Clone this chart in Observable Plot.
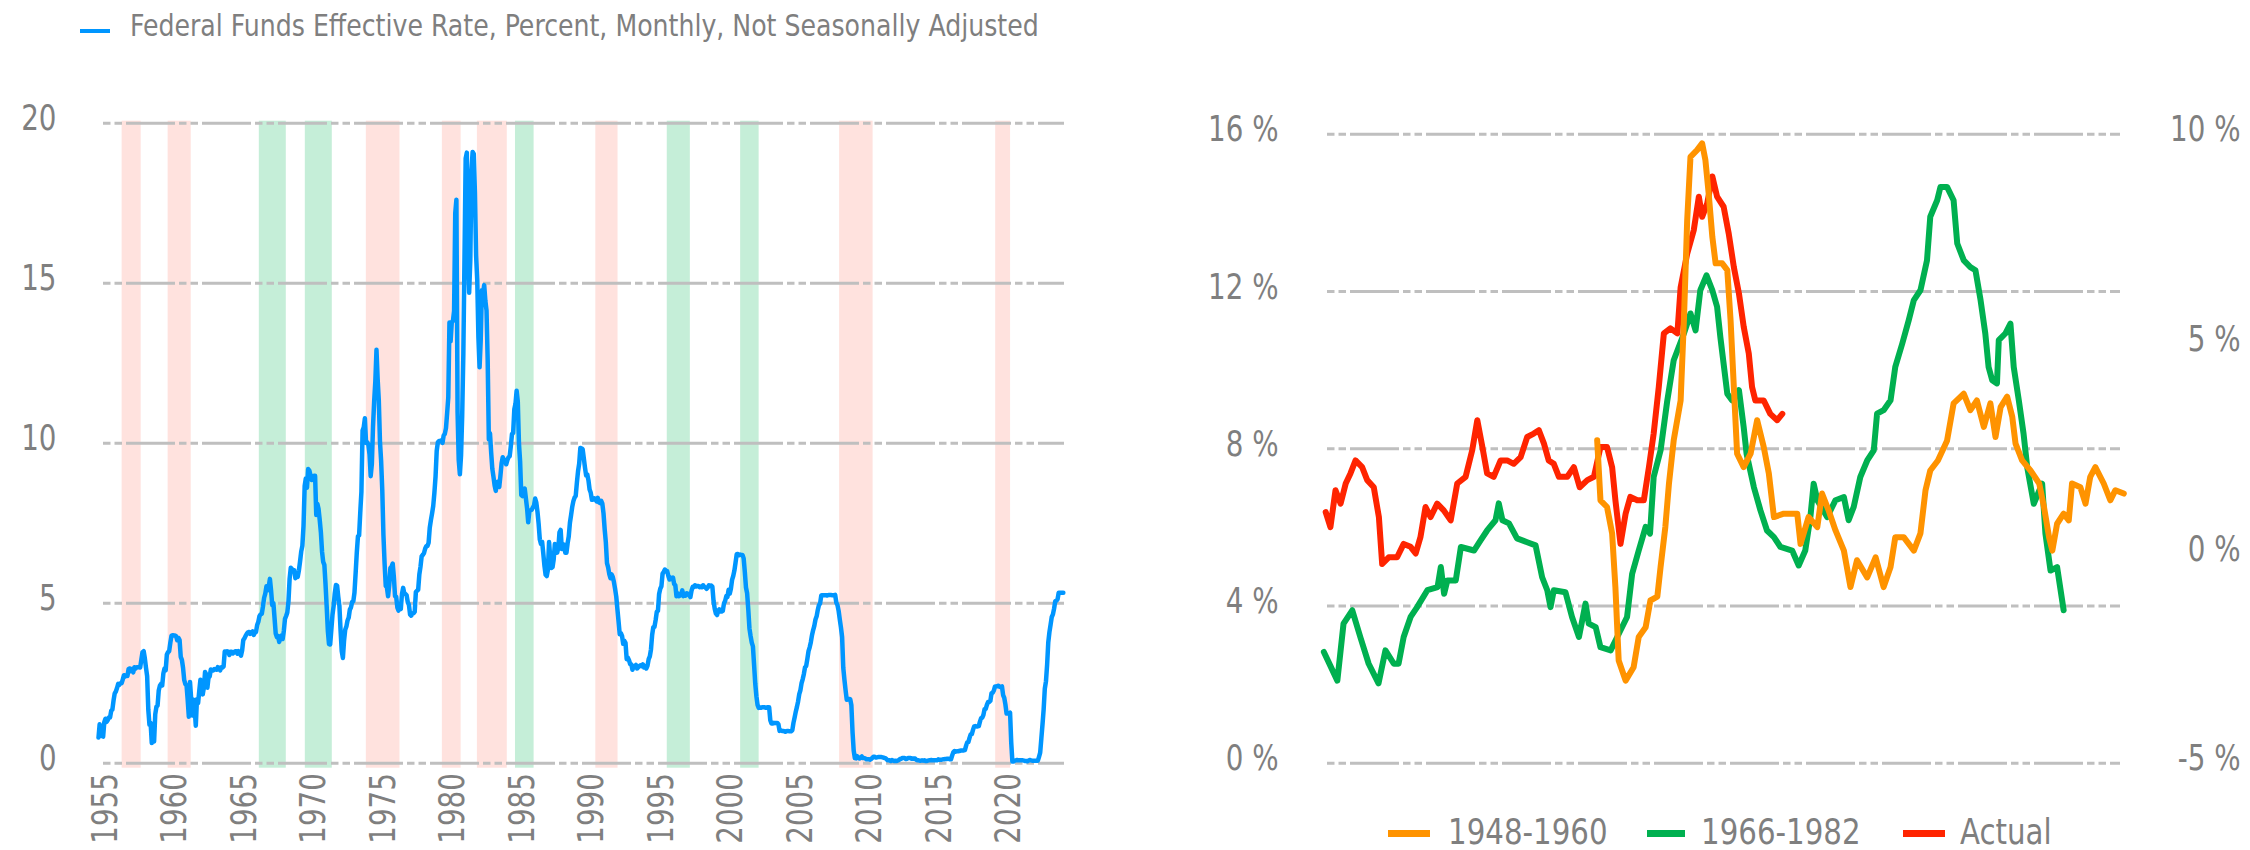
<!DOCTYPE html>
<html>
<head>
<meta charset="utf-8">
<script src="https://cdn.jsdelivr.net/npm/d3@7"></script>
<script src="https://cdn.jsdelivr.net/npm/@observablehq/plot@0.6"></script>
<style>
  html, body { margin: 0; padding: 0; background: #ffffff; }
  body { width: 2250px; height: 850px; position: relative; overflow: hidden;
         font-family: "Liberation Sans Narrow", "Arial Narrow", "DejaVu Sans Condensed", sans-serif; color: #7f7f7f; }
  .abs { position: absolute; white-space: nowrap; line-height: 1; transform-origin: 0 0; }
  .sw { position: absolute; }
</style>
</head>
<body>
<div id="left" class="abs" style="left:0;top:0;"></div>
<div id="right" class="abs" style="left:1110px;top:0;"></div>
<div class="sw" style="left:80px;top:29px;width:30px;height:4px;background:#0096ff;"></div>
<div class="abs" id="title" style="left:130px;top:10px;font-size:31px;transform:scaleX(0.904);">Federal Funds Effective Rate, Percent, Monthly, Not Seasonally Adjusted</div>

<div class="sw" style="left:1388px;top:830px;width:42px;height:7px;background:#ff9300;"></div>
<div class="abs" style="left:1448px;top:815px;font-size:35px;transform:scaleX(0.93);">1948-1960</div>
<div class="sw" style="left:1647px;top:830px;width:38px;height:7px;background:#00b050;"></div>
<div class="abs" style="left:1701px;top:815px;font-size:35px;transform:scaleX(0.93);">1966-1982</div>
<div class="sw" style="left:1903px;top:830px;width:42px;height:7px;background:#ff2400;"></div>
<div class="abs" style="left:1960px;top:815px;font-size:35px;transform:scaleX(0.93);">Actual</div>

<script>
// ---------- LEFT CHART DATA: Federal Funds Effective Rate (monthly, from July 1954) ----------
const ffStartYear = 1954.5;
const ff1950s = [0.80,1.22,1.07,0.85,0.83,1.28,
  1.39,1.29,1.35,1.43,1.43,1.64,1.68,1.96,2.18,2.24,2.35,2.48,
  2.45,2.50,2.50,2.62,2.75,2.71,2.75,2.73,2.95,2.96,2.88,2.94,
  2.84,3.00,2.96,3.00,3.00,3.00,2.99,3.24,3.47,3.50,3.28,2.98,
  2.72,1.67,1.20,1.26,0.63,0.93,0.68,1.53,1.76,1.80,2.27,2.42,
  2.48,2.43,2.80,2.96,2.90,3.39,3.47,3.50,3.76,3.98,4.00,3.99];
const ff1960s = [3.99,3.97,3.84,3.92,3.85,3.32,3.23,2.98,2.60,2.47,2.44,1.98,
  1.45,2.54,2.02,1.49,1.98,1.73,1.17,2.00,1.88,2.26,2.61,2.33,
  2.15,2.37,2.85,2.78,2.36,2.68,2.71,2.93,2.90,2.90,2.94,2.93,
  2.92,3.00,2.98,2.90,3.00,2.99,3.02,3.49,3.48,3.50,3.48,3.38,
  3.48,3.48,3.43,3.47,3.50,3.50,3.42,3.50,3.45,3.36,3.52,3.85,
  3.90,3.98,4.04,4.09,4.10,4.04,4.09,4.12,4.01,4.08,4.10,4.32,
  4.42,4.60,4.65,4.67,4.90,5.17,5.30,5.53,5.40,5.53,5.76,5.40,
  4.94,5.00,4.53,4.05,3.94,3.98,3.79,3.90,3.99,3.88,4.13,4.51,
  4.60,4.71,5.05,5.76,6.11,6.07,6.02,6.03,5.78,5.91,5.82,6.02,
  6.30,6.61,6.79,7.41,8.67,8.90,8.61,9.19,9.15,9.00,8.85,8.97];
const ff1970s = [8.98,8.98,7.76,8.10,7.94,7.60,7.21,6.61,6.29,6.20,5.60,4.90,
  4.14,3.72,3.71,4.16,4.63,4.91,5.31,5.57,5.55,5.20,4.91,4.14,
  3.50,3.29,3.83,4.17,4.27,4.46,4.55,4.80,4.87,5.04,5.06,5.33,
  5.94,6.58,7.09,7.12,7.84,8.49,10.40,10.50,10.78,10.01,10.03,9.95,
  9.65,8.97,9.35,10.51,11.31,11.93,12.92,12.01,11.34,10.06,9.45,8.53,
  7.13,6.24,5.54,5.49,5.22,5.55,6.10,6.14,6.24,5.82,5.22,5.20,
  4.87,4.77,4.84,4.82,5.29,5.48,5.31,5.29,5.25,5.03,4.95,4.65,
  4.61,4.68,4.69,4.73,5.35,5.39,5.42,5.90,6.14,6.47,6.51,6.56,
  6.70,6.78,6.79,6.89,7.36,7.60,7.81,8.04,8.45,8.96,9.76,10.03,
  10.07,10.06,10.09,10.01,10.24,10.29,10.47,10.94,11.43,13.77,13.18,13.78];
const ff1980s = [13.82,14.13,17.19,17.61,10.98,9.47,9.03,9.61,10.87,12.81,15.85,18.90,
  19.08,15.93,14.70,15.72,18.52,19.10,19.04,17.82,15.87,15.08,13.31,12.37,
  13.22,14.78,14.68,14.94,14.45,14.15,12.59,10.12,10.31,9.71,9.20,8.95,
  8.68,8.51,8.77,8.80,8.63,8.98,9.37,9.56,9.45,9.48,9.34,9.47,
  9.56,9.59,9.91,10.29,10.32,11.06,11.23,11.64,11.30,9.99,9.43,8.38,
  8.35,8.50,8.58,8.27,7.97,7.53,7.88,7.90,7.92,7.99,8.05,8.27,
  8.14,7.86,7.48,6.99,6.85,6.92,6.56,6.17,5.89,5.85,6.04,6.91,
  6.43,6.10,6.13,6.37,6.85,6.73,6.58,6.73,7.22,7.29,6.69,6.77,
  6.83,6.58,6.58,6.87,7.09,7.51,7.75,8.01,8.19,8.30,8.35,8.76,
  9.12,9.36,9.85,9.84,9.81,9.53,9.24,8.99,9.02,8.84,8.55,8.45];
const ff1990s = [8.23,8.24,8.28,8.26,8.18,8.29,8.15,8.13,8.20,8.11,7.81,7.31,
  6.91,6.25,6.12,5.91,5.78,5.90,5.82,5.66,5.45,5.21,4.81,4.43,
  4.03,4.06,3.98,3.73,3.82,3.76,3.25,3.30,3.22,3.10,3.09,2.92,
  3.02,3.03,3.07,2.96,3.00,3.04,3.06,3.03,3.09,2.99,3.02,2.96,
  3.05,3.25,3.34,3.56,4.01,4.25,4.26,4.47,4.73,4.76,5.29,5.45,
  5.53,5.92,5.98,6.05,6.01,6.00,5.85,5.74,5.80,5.76,5.80,5.60,
  5.56,5.22,5.31,5.22,5.24,5.27,5.40,5.22,5.30,5.24,5.31,5.29,
  5.25,5.19,5.39,5.51,5.50,5.56,5.52,5.54,5.54,5.50,5.52,5.50,
  5.56,5.51,5.49,5.45,5.49,5.56,5.54,5.55,5.51,5.07,4.83,4.68,
  4.63,4.76,4.81,4.74,4.74,4.76,4.99,5.07,5.22,5.20,5.42,5.30];
const ff2000s = [5.45,5.73,5.85,6.02,6.27,6.53,6.54,6.50,6.52,6.51,6.51,6.40,
  5.98,5.49,5.31,4.80,4.21,3.97,3.77,3.65,3.07,2.49,2.09,1.82,
  1.73,1.74,1.73,1.75,1.75,1.75,1.73,1.74,1.75,1.75,1.34,1.24,
  1.24,1.26,1.25,1.26,1.26,1.22,1.01,1.03,1.01,1.01,1.00,0.98,
  1.00,1.01,1.00,1.00,1.00,1.03,1.26,1.43,1.61,1.76,1.93,2.16,
  2.28,2.50,2.63,2.79,3.00,3.04,3.26,3.50,3.62,3.78,4.00,4.16,
  4.29,4.49,4.59,4.79,4.94,4.99,5.24,5.25,5.25,5.25,5.25,5.24,
  5.25,5.26,5.26,5.25,5.25,5.25,5.26,5.02,4.94,4.76,4.49,4.24,
  3.94,2.98,2.61,2.28,1.98,2.00,2.01,2.00,1.81,0.97,0.39,0.16,
  0.15,0.22,0.18,0.15,0.18,0.21,0.16,0.16,0.15,0.12,0.12,0.12];
const ff2010s = [0.11,0.13,0.16,0.20,0.20,0.18,0.18,0.19,0.19,0.19,0.19,0.18,
  0.17,0.16,0.14,0.10,0.09,0.09,0.07,0.10,0.08,0.07,0.08,0.07,
  0.08,0.10,0.13,0.14,0.16,0.16,0.16,0.13,0.14,0.16,0.16,0.16,
  0.14,0.15,0.14,0.15,0.11,0.09,0.09,0.08,0.08,0.09,0.08,0.09,
  0.07,0.07,0.08,0.09,0.09,0.10,0.09,0.09,0.09,0.09,0.09,0.12,
  0.11,0.11,0.11,0.12,0.12,0.13,0.13,0.14,0.14,0.12,0.12,0.24,
  0.34,0.38,0.36,0.37,0.37,0.38,0.39,0.40,0.40,0.40,0.41,0.54,
  0.65,0.66,0.79,0.90,0.91,1.04,1.15,1.16,1.15,1.15,1.16,1.30,
  1.41,1.42,1.51,1.69,1.70,1.82,1.91,1.91,1.95,2.19,2.20,2.27,
  2.40,2.40,2.41,2.42,2.39,2.38,2.40,2.13,2.04,1.83,1.55,1.55];
const ff2020s = [1.55,1.58,0.65,0.05,0.05,0.08,0.09,0.10,0.09,0.09,0.09,0.09,
  0.09,0.08,0.07,0.07,0.06,0.08,0.10,0.09,0.08,0.08,0.08,0.08,
  0.08,0.08,0.20,0.33,0.77,1.21,1.68,2.33,2.56,3.08,3.78,4.10,
  4.33,4.57,4.65,4.83,5.06,5.08,5.12,5.33,5.33,5.33,5.33,5.33];

// shaded periods (years, fractional)
const pinkStart = [1956.20,1959.51,1973.77,1979.24,1981.76,1990.28,2007.82,2019.05];
const pinkEnd   = [1957.57,1961.17,1976.19,1980.59,1983.91,1991.88,2010.23,2020.12];
const greenStart = [1966.07,1969.38,1984.50,1995.42,2000.70];
const greenEnd   = [1968.01,1971.32,1985.84,1997.08,2002.03];

const leftYTicks = [0, 5, 10, 15, 20];
const leftXTicks = [1955,1960,1965,1970,1975,1980,1985,1990,1995,2000,2005,2010,2015,2020];

// ---------- RIGHT CHART DATA: inflation paths (x = months from start of 1966 path) ----------
// 1966-1982 (left axis, %)
const s1966Months = [0,3.7,5.4,7.8,10,12.3,15,16.9,19.2,20.5,21.9,23.8,25.6,28.4,31.2,32.1,33,33.9,36.2,37.6,41.2,43,44.8,47.1,48,49,50.8,53,55.8,58.1,59.9,61.3,62.2,63.1,66.3,68.1,70,71.8,72.7,74.6,75.9,78.7,80.5,83.2,84.6,86.4,88.3,89.5,90.5,92.4,94.2,96,98.8,100.6,102,103.3,105,106.6,107.9,108.8,110.7,112,113.9,115.2,116,118,119.8,121.6,123.5,125.3,128.5,130.3,132.1,133.5,134.4,135.4,138.1,140.4,142.7,144,145.4,147.2,149.1,150.9,151.8,153.6,155.5,156.8,158.7,160.5,161.9,163.7,165.5,166.4,168.3,169.2,171,172.8,173.8,175.6,177.4,178.8,180.2,181.5,182.4,183.4,184.7,185.2,187,188.4,189.3,190.7,192,193,194.8,197.1,198,199.4,201.2,203];
const s1966Values = [2.83,2.10,3.55,3.89,3.21,2.53,2.03,2.87,2.53,2.53,3.21,3.72,3.97,4.40,4.48,4.99,4.31,4.65,4.65,5.50,5.41,5.67,5.92,6.18,6.61,6.18,6.10,5.72,5.62,5.54,4.73,4.40,3.97,4.40,4.35,3.72,3.21,4.06,3.55,3.46,2.95,2.87,3.21,3.72,4.82,5.41,6.01,5.84,7.28,7.96,9.20,10.25,10.93,11.44,11.01,12.03,12.41,12.03,11.61,10.84,9.40,9.23,9.49,8.55,7.87,7.02,6.43,5.92,5.75,5.50,5.41,5.03,5.41,6.26,7.11,6.69,6.26,6.69,6.77,6.18,6.52,7.28,7.70,7.96,8.89,8.98,9.23,10.08,10.67,11.27,11.78,12.03,12.79,13.90,14.32,14.66,14.66,14.32,13.22,12.79,12.62,12.54,11.78,10.93,10.08,9.74,9.66,10.76,10.93,11.18,10.08,9.23,8.38,7.53,6.60,7.11,5.84,4.90,4.99,3.89];
// 1948-1960 (right axis, %)
const s1948Months = [75,75.9,77.7,79.1,80,80.9,82.8,85,86.4,88.3,89.6,91.5,92.4,93.7,94.7,96,97.9,98.8,99.7,100.6,102.4,103.8,104.7,105.6,106.6,107.5,109.3,110.7,111.6,112.5,113.4,115.2,117.1,118.9,120.7,122.1,123.5,126.2,129.9,130.8,133,135.4,136.7,138.5,140.4,142.7,144.5,146.3,149.1,151.4,153.6,155.5,156.8,159.1,161.9,163.7,165.1,166.4,168.5,171,172.8,175.6,177.4,179.2,181.1,182.9,184.3,185.7,187.5,188.9,189.8,191.6,193.9,196.3,197.6,199,199.9,201.2,203,204.4,205.3,207.6,209,210.3,211.7,214,215.8,217.2,219.5];
const s1948Values = [2.70,1.27,1.11,0.48,-0.80,-2.55,-3.03,-2.71,-1.99,-1.76,-1.12,-1.03,-0.32,0.63,1.67,2.70,3.65,5.57,7.95,9.46,9.62,9.78,9.38,8.58,7.55,6.92,6.92,6.76,5.57,3.97,2.38,2.06,2.38,3.18,2.54,1.91,0.87,0.95,0.95,0.23,0.87,0.63,1.43,1.03,0.55,0.07,-0.80,-0.16,-0.57,-0.09,-0.80,-0.32,0.39,0.39,0.07,0.48,1.51,1.98,2.22,2.69,3.58,3.81,3.42,3.65,3.02,3.58,2.78,3.49,3.74,3.26,2.62,2.22,1.98,1.67,1.11,0.39,0.07,0.71,0.95,0.79,1.67,1.58,1.19,1.83,2.06,1.67,1.27,1.51,1.43];
// Actual (right axis, %)
const actualMonths = [0.5,1.8,3.2,4.6,6,7.3,8.7,10.5,11.9,13.7,15.1,16,17.8,20.1,21.9,23.8,25.2,26.5,27.9,29.3,31.1,32.9,34.8,36.6,38.9,40.7,42.1,43.5,44.8,46.6,48.5,50.3,52.1,54,55.8,57.6,59,60.4,61.7,63.1,64.5,66.8,68.6,70.2,72.3,74.1,75.9,77.7,79.1,80,81.4,82.8,84.1,86,87.8,89.2,90.5,91.9,93.3,95.1,97,97.9,99.7,101.5,102.9,103.8,105.2,106.6,107.9,109.7,111.1,112.5,113.9,115.2,116.6,117.5,118.4,120.7,122.5,124.4,125.8];
const actualValues = [0.99,0.63,1.51,1.19,1.67,1.91,2.22,2.06,1.75,1.58,0.87,-0.25,-0.09,-0.09,0.23,0.16,0.00,0.39,1.11,0.87,1.19,1.03,0.79,1.67,1.83,2.46,3.18,2.54,1.91,1.83,2.22,2.22,2.14,2.30,2.78,2.86,2.94,2.62,2.22,2.14,1.83,1.83,2.06,1.58,1.75,1.83,2.54,2.54,2.06,1.27,0.23,0.95,1.35,1.27,1.27,2.06,2.86,3.97,5.25,5.37,5.25,6.35,7.15,7.71,8.51,8.03,8.35,8.99,8.51,8.27,7.63,6.83,6.20,5.41,4.77,3.97,3.65,3.65,3.33,3.18,3.33];

const rightLeftTicks = [0, 4, 8, 12, 16];
const rightRightTicks = [-5, 0, 5, 10];

// ---------- helpers ----------
const FONT = '"Liberation Sans Narrow", "Arial Narrow", "DejaVu Sans Condensed", sans-serif';
const GRID = {stroke: "#bfbfbf", strokeWidth: 3, strokeDasharray: "49 4 7.5 4 7.5 4", strokeDashoffset: 53};
const TICK = {tickSize: 0, label: null, fill: "#7f7f7f", fontSize: 35};
// right axis (-5..10) shares the vertical extent of the left axis (0..16)
const rightToLeft = r => (r + 5) * 16 / 15;
const leftToRight = l => l * 15 / 16 - 5;

// narrow the tick-label glyphs to mimic the condensed face of the original
function condense(svg, k) {
  svg.querySelectorAll('g[aria-label$="tick label"] text').forEach(t => {
    const len = t.getComputedTextLength();
    if (len > 0) { t.setAttribute("textLength", (len * k).toFixed(1)); t.setAttribute("lengthAdjust", "spacingAndGlyphs"); }
  });
}

const fedFunds = [...ff1950s, ...ff1960s, ...ff1970s, ...ff1980s, ...ff1990s, ...ff2000s, ...ff2010s, ...ff2020s]
  .map((v, i) => ({date: ffStartYear + i / 12, rate: v}));
const pinkBands = pinkStart.map((s, i) => ({start: s, end: pinkEnd[i]}));
const greenBands = greenStart.map((s, i) => ({start: s, end: greenEnd[i]}));

const leftChart = Plot.plot({
  width: 1110, height: 850,
  marginLeft: 103, marginRight: 46, marginTop: 122.7, marginBottom: 87.3,
  x: {domain: [1954.86, 2024.0], axis: null},
  y: {domain: [0, 20], axis: null},
  style: {fontFamily: FONT, fontSize: "35px", color: "#7f7f7f", background: "transparent", overflow: "visible"},
  marks: [
    Plot.rectX(pinkBands, {x1: "start", x2: "end", fill: "#ffe2de", insetTop: -2, insetBottom: -5}),
    Plot.rectX(greenBands, {x1: "start", x2: "end", fill: "#c5eed8", insetTop: -2, insetBottom: -5}),
    Plot.ruleY(leftYTicks, GRID),
    Plot.lineY(fedFunds, {x: "date", y: "rate", stroke: "#0096ff", strokeWidth: 4.5, strokeLinejoin: "round"}),
    Plot.axisY(leftYTicks, {...TICK, tickPadding: 47, dy: -4}),
    Plot.axisX(leftXTicks, {...TICK, tickRotate: -90, tickPadding: 10, tickFormat: d => String(d)})
  ]
});
document.getElementById("left").appendChild(leftChart);
condense(leftChart, 0.88);

const s1966 = s1966Months.map((m, i) => ({m, v: s1966Values[i]}));
const s1948 = s1948Months.map((m, i) => ({m, v: s1948Values[i]}));
const actual = actualMonths.map((m, i) => ({m, v: actualValues[i]}));

const rightChart = Plot.plot({
  width: 1140, height: 850,
  marginLeft: 217, marginRight: 130, marginTop: 133.7, marginBottom: 87.3,
  x: {domain: [1.0, 218.6], axis: null},
  y: {domain: [0, 16], axis: null},
  style: {fontFamily: FONT, fontSize: "35px", color: "#7f7f7f", background: "transparent", overflow: "visible"},
  marks: [
    Plot.ruleY(rightLeftTicks, GRID),
    Plot.line(s1966, {x: "m", y: "v", stroke: "#00b050", strokeWidth: 6, strokeLinejoin: "round"}),
    Plot.line(actual, {x: "m", y: d => rightToLeft(d.v), stroke: "#ff2400", strokeWidth: 6, strokeLinejoin: "round"}),
    Plot.line(s1948, {x: "m", y: d => rightToLeft(d.v), stroke: "#ff9300", strokeWidth: 6, strokeLinejoin: "round"}),
    Plot.axisY(rightLeftTicks, {...TICK, anchor: "left", tickPadding: 49, dy: -4, tickFormat: d => `${d} %`}),
    Plot.axisY(rightRightTicks.map(rightToLeft), {...TICK, anchor: "right", textAnchor: "end", tickPadding: 120, dy: -4,
      tickFormat: d => `${Math.round(leftToRight(d))} %`})
  ]
});
document.getElementById("right").appendChild(rightChart);
condense(rightChart, 0.88);
</script>
</body>
</html>
